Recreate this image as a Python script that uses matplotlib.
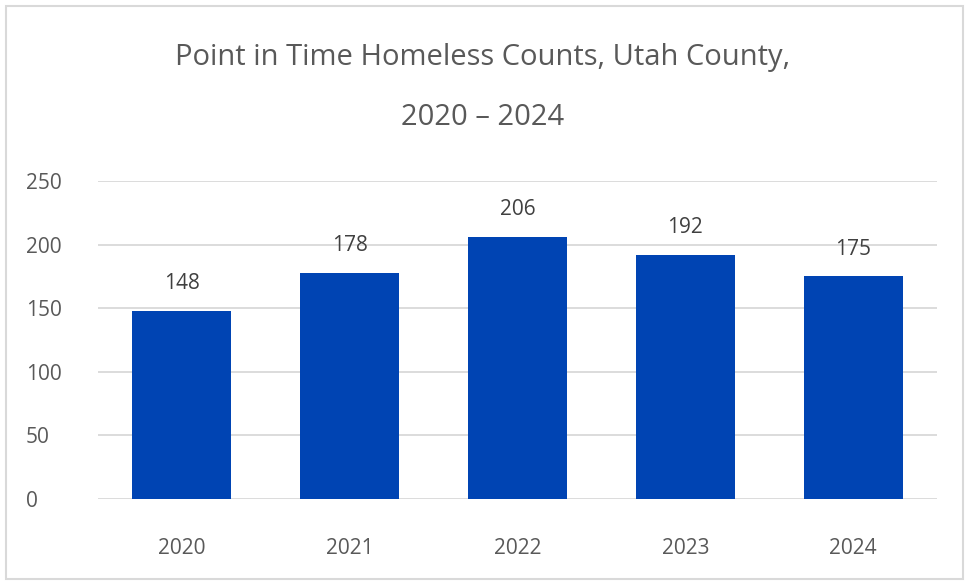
import matplotlib
matplotlib.use("Agg")
import matplotlib.pyplot as plt
from matplotlib.patches import Rectangle

years = ["2020", "2021", "2022", "2023", "2024"]
counts = [148, 178, 206, 192, 175]
yticks = [0, 50, 100, 150, 200, 250]
title_line1 = "Point in Time Homeless Counts, Utah County,"
title_line2 = "2020 \u2013 2024"

plt.rcParams['font.family'] = ['Open Sans', 'DejaVu Sans']

fig = plt.figure(figsize=(9.65, 5.82), dpi=100)
ax = fig.add_axes([98/965, 1-499/582, 839/965, 318/582])

x = range(len(years))
bars = ax.bar(x, counts, width=0.59, color="#0044B3", zorder=3)
for xi, v in zip(x, counts):
    ax.text(xi, v + 13, str(v), ha="center", va="bottom", fontsize=15, color="#404040")

ax.set_xlim(-0.5, len(years) - 0.5)
ax.set_ylim(0, 250)
ax.set_yticks(yticks)
ax.set_yticklabels([str(t) for t in yticks])
ax.set_xticks(list(x))
ax.set_xticklabels(years)
ax.grid(axis="y", color="#D9D9D9", linewidth=1.3, zorder=0)
for s in ["top", "right", "left", "bottom"]:
    ax.spines[s].set_visible(False)
ax.tick_params(axis="both", length=0, labelsize=15, colors="#595959")
ax.tick_params(axis="y", pad=72 * 0.72)
ax.tick_params(axis="x", pad=28)
for lbl in ax.get_yticklabels():
    lbl.set_horizontalalignment("left")

fig.text(0.5, 1 - 58/582, title_line1, ha="center", va="center", fontsize=21, color="#595959")
fig.text(0.5, 1 - 118/582, title_line2, ha="center", va="center", fontsize=21, color="#595959")

fig.patches.append(Rectangle((6/965, 3/582), 957/965, 573/582, transform=fig.transFigure,
                             fill=False, edgecolor="#D9D9D9", linewidth=1.5))

fig.savefig("out.png", dpi=100)
